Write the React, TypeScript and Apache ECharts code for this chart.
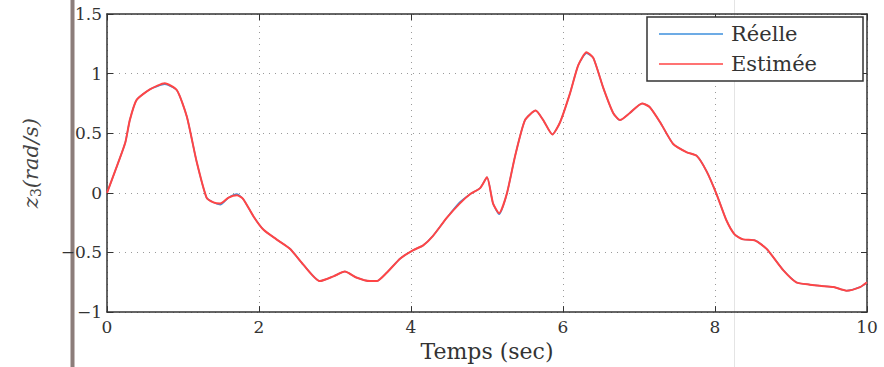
import React, { useEffect, useRef } from "react";
import * as echarts from "echarts";

const timeSec = [
  0, 0.105, 0.24, 0.3, 0.39, 0.57, 0.76, 0.92, 1.05, 1.18, 1.31, 1.4, 1.49, 1.6, 1.71, 1.79,
  1.93, 2.06, 2.23, 2.41, 2.58, 2.8, 2.98, 3.13, 3.28, 3.46, 3.55, 3.68, 3.86, 4.03, 4.16,
  4.29, 4.47, 4.64, 4.78, 4.91, 5.0, 5.08, 5.16, 5.26, 5.37, 5.5, 5.64, 5.74, 5.86, 5.96,
  6.09, 6.2, 6.31, 6.4, 6.53, 6.66, 6.75, 6.88, 7.04, 7.14, 7.28, 7.45, 7.63, 7.76, 7.89,
  8.02, 8.15, 8.26, 8.37, 8.53, 8.68, 8.9, 9.07, 9.25, 9.38, 9.56, 9.73, 9.91, 10.0,
];

const estimee = [
  0, 0.18, 0.42, 0.61, 0.78, 0.87, 0.92, 0.86, 0.64, 0.26, -0.04, -0.08, -0.09, -0.04, -0.02, -0.05,
  -0.2, -0.31, -0.39, -0.47, -0.6, -0.74, -0.7, -0.66, -0.71, -0.74, -0.74, -0.67, -0.55, -0.48, -0.44,
  -0.36, -0.21, -0.09, -0.01, 0.04, 0.13, -0.09, -0.17, -0.01, 0.31, 0.61, 0.69, 0.61, 0.49, 0.59,
  0.83, 1.07, 1.18, 1.13, 0.88, 0.67, 0.61, 0.67, 0.75, 0.72, 0.59, 0.41, 0.34, 0.31, 0.18,
  -0.01, -0.23, -0.35, -0.39, -0.4, -0.47, -0.65, -0.75, -0.77, -0.78, -0.79, -0.82, -0.79, -0.75,
];

const reelle = [
  0, 0.18, 0.42, 0.61, 0.78, 0.87, 0.91, 0.86, 0.64, 0.26, -0.04, -0.08, -0.1, -0.04, -0.01, -0.05,
  -0.2, -0.31, -0.39, -0.47, -0.6, -0.74, -0.7, -0.66, -0.71, -0.74, -0.74, -0.67, -0.55, -0.48, -0.44,
  -0.36, -0.21, -0.08, -0.01, 0.04, 0.13, -0.09, -0.18, -0.01, 0.31, 0.61, 0.69, 0.61, 0.49, 0.59,
  0.83, 1.07, 1.17, 1.13, 0.88, 0.67, 0.61, 0.67, 0.75, 0.72, 0.59, 0.41, 0.34, 0.31, 0.18,
  -0.01, -0.23, -0.35, -0.39, -0.4, -0.47, -0.65, -0.75, -0.77, -0.78, -0.79, -0.82, -0.79, -0.75,
];

const seriesNames = ["Réelle", "Estimée"];
const xAxisTitle = "Temps (sec)";

const SERIF = "'DejaVu Serif', 'Liberation Serif', serif";
const BLUE = "#3d8fdc";
const RED = "#ff4545";

export default function App() {
  const ref = useRef<HTMLDivElement>(null);

  useEffect(() => {
    if (!ref.current) return;
    const chart = echarts.init(ref.current, undefined, { renderer: "svg" });
    const pairs = (ys: number[]) => timeSec.map((t, i) => [t, ys[i]]);
    const tickFmt = (v: number) => String(v).replace("-", "\u2212");
    const frameLine = { show: true, onZero: false, lineStyle: { color: "#333", width: 1.5 } };
    const tick = { show: true, inside: true, length: 6, lineStyle: { color: "#333" } };
    const grid = { show: true, lineStyle: { color: "#9a9a9a", type: [1, 5], width: 1 } };

    chart.setOption({
      animation: false,
      backgroundColor: "#ffffff",
      grid: { left: 107, right: 17, top: 14, bottom: 45 },
      graphic: [
        {
          type: "rect",
          z: 0,
          shape: { x: 70.5, y: 0, width: 4, height: 367 },
          style: { fill: "#8c7d7a" },
        },
        {
          type: "rect",
          z: 0,
          shape: { x: 734, y: 0, width: 1, height: 367 },
          style: { fill: "#e4e4e4" },
        },
        {
          type: "rect",
          z: 10,
          shape: { x: 647, y: 17, width: 216, height: 64 },
          style: { fill: "#ffffff", stroke: "#333333", lineWidth: 1.5 },
        },
      ],
      legend: {
        data: [
          { name: seriesNames[0], icon: "rect", itemStyle: { color: BLUE } },
          { name: seriesNames[1], icon: "rect", itemStyle: { color: RED } },
        ],
        orient: "vertical",
        left: 659,
        top: 23,
        z: 20,
        itemWidth: 64,
        itemHeight: 1.5,
        itemGap: 8,
        padding: 0,
        textStyle: {
          fontFamily: SERIF,
          fontSize: 21,
          lineHeight: 22,
          color: "#333",
          padding: [0, 0, 0, 3],
        },
      },
      xAxis: [
        {
          type: "value",
          min: 0,
          max: 10,
          interval: 2,
          name: xAxisTitle,
          nameLocation: "middle",
          nameGap: 18,
          nameTextStyle: { fontFamily: SERIF, fontSize: 22, color: "#333" },
          axisLine: frameLine,
          axisTick: tick,
          axisLabel: {
            fontFamily: SERIF,
            fontSize: 17,
            color: "#333",
            margin: 6,
            formatter: tickFmt,
          },
          splitLine: grid,
        },
        {
          type: "value",
          position: "top",
          min: 0,
          max: 10,
          interval: 2,
          axisLine: frameLine,
          axisTick: tick,
          axisLabel: { show: false },
          splitLine: { show: false },
        },
      ],
      yAxis: [
        {
          type: "value",
          min: -1,
          max: 1.5,
          interval: 0.5,
          name: "{i|z}{s|3}{i|(rad/s)}",
          nameLocation: "middle",
          nameGap: 64,
          nameTextStyle: {
            rich: {
              i: { fontFamily: SERIF, fontStyle: "italic", fontSize: 21, color: "#444" },
              s: { fontFamily: SERIF, fontSize: 14, color: "#444", padding: [10, 0, 0, 0] },
            },
          },
          axisLine: frameLine,
          axisTick: tick,
          axisLabel: {
            fontFamily: SERIF,
            fontSize: 17,
            color: "#333",
            margin: 5,
            formatter: tickFmt,
          },
          splitLine: grid,
        },
        {
          type: "value",
          position: "right",
          min: -1,
          max: 1.5,
          interval: 0.5,
          axisLine: frameLine,
          axisTick: tick,
          axisLabel: { show: false },
          splitLine: { show: false },
        },
      ],
      series: [
        {
          name: seriesNames[0],
          type: "line",
          data: pairs(reelle),
          showSymbol: false,
          symbol: "none",
          smooth: 0.2,
          z: 2,
          lineStyle: { color: BLUE, width: 1.5 },
          itemStyle: { color: BLUE },
        },
        {
          name: seriesNames[1],
          type: "line",
          data: pairs(estimee),
          showSymbol: false,
          symbol: "none",
          smooth: 0.2,
          z: 3,
          lineStyle: { color: RED, width: 2 },
          itemStyle: { color: RED },
        },
      ],
    });

    return () => chart.dispose();
  }, []);

  return <div ref={ref} style={{ width: 884, height: 367, position: "absolute", left: 0, top: 0 }} />;
}
